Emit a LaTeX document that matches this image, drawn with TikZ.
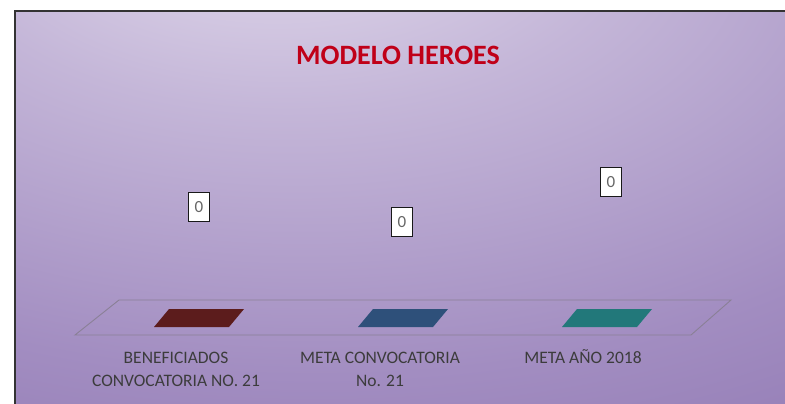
\documentclass[tikz,border=0pt]{standalone}
\usepackage{fontspec}
\setmainfont{Carlito}
\usepackage{tikz}
\usetikzlibrary{positioning}
\usetikzlibrary{calc}
\definecolor{titlered}{RGB}{192,0,24}
\definecolor{glowc}{RGB}{232,226,240}
\definecolor{midc}{RGB}{196,182,216}
\definecolor{edgec}{RGB}{162,141,193}
\definecolor{darkc}{RGB}{128,102,166}
\definecolor{keyred}{RGB}{92,28,28}
\definecolor{keyblue}{RGB}{46,80,122}
\definecolor{keyteal}{RGB}{34,120,122}
\definecolor{labelgray}{RGB}{60,60,60}
\definecolor{legendgray}{RGB}{138,128,150}
\pgfdeclareradialshading{bgglow}{\pgfpoint{-9bp}{42bp}}{color(0bp)=(glowc); color(22bp)=(midc); color(47bp)=(edgec); color(80bp)=(darkc); color(120bp)=(darkc)}
\tikzstyle{valbox}=[rectangle,draw=black!90,fill=white,line width=1.2pt,minimum width=21pt,minimum height=29pt,inner sep=0pt,text=black!60,font=\fontsize{17}{17}\selectfont]
\tikzstyle{catlabel}=[align=center,text=labelgray,inner sep=0pt,font=\fontsize{17.5}{23}\selectfont]
\tikzstyle{legendedge}=[draw=legendgray,line width=0.9pt]
\tikzset{charttitle/.style={text=titlered,font=\bfseries\fontsize{28}{28}\selectfont}}

\begin{document}
\begin{tikzpicture}[x=1pt,y=-1pt]

  \useasboundingbox (0,0) rectangle (785,404);
  \shade[shading=bgglow] (15,11) rectangle (785,404);
  \draw[black!80,line width=1.5pt] (15,404) -- (15,11) -- (785,11);

  \node[charttitle] (title) at (398,55) {MODELO HEROES};

  % legend frame
  \foreach \x/\y/\name in {119/300/lf1, 731/300/lf2, 691/335/lf3, 75/335/lf4}
         \coordinate (\name) at (\x,\y);
  \path[legendedge] (lf1) -- (lf2) -- (lf3) -- (lf4) -- cycle;

  % legend keys
  \foreach \x/\name/\col in {154/k1/keyred, 358/k2/keyblue, 562/k3/keyteal}
         \fill[\col] (\x,327) coordinate (\name) -- ++(15,-18) -- ++(75,0) -- ++(-15,18) -- cycle;

  % data labels
  \foreach \x/\y/\name/\label in {199/207/v1/0, 402/222/v2/0, 611/182/v3/0}
         \node[valbox] (\name) at (\x,\y) {\label};

  \node[catlabel, anchor=base] (c1) at (176,386) {BENEFICIADOS\\CONVOCATORIA NO. 21};
  \node[catlabel, anchor=base] (c2) at (380,386) {META CONVOCATORIA\\No. 21};
  \node[catlabel, anchor=base] (c3) at (583,363) {META AÑO 2018};

\end{tikzpicture}
\end{document}
